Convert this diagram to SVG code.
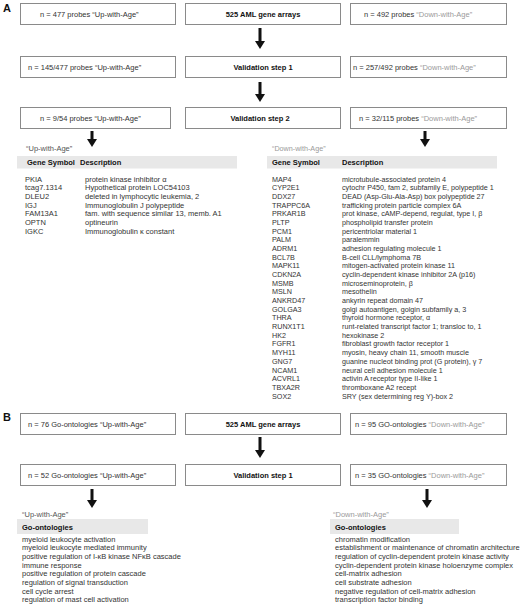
<svg xmlns="http://www.w3.org/2000/svg" width="520" height="608" viewBox="0 0 520 608">
<style>
text{font-family:"Liberation Sans",Arial,sans-serif;font-size:7.5px;fill:#333}
.box{fill:#fff;stroke:#8a8a8a;stroke-width:1}
.b{font-weight:bold;fill:#111}
.c{text-anchor:middle}
.dn{fill:#9a9a9a}
.up{fill:#555}
.bar{fill:#e8e8e8}
.lab{font-weight:bold;font-size:11px;fill:#111}
.arr{fill:#111}
.sm text{font-size:7.2px}
</style>
<rect width="520" height="608" fill="#fff"/>
<text class="lab" x="3" y="12">A</text>
<text class="lab" x="3" y="421">B</text>

<g id="a-up1"><rect class="box" x="20.5" y="3.5" width="155" height="21"/><text x="40" y="16.5">n = 477 probes “Up-with-Age”</text></g>
<g id="a-arrays"><rect class="box" x="185.5" y="3.5" width="155" height="21"/><text class="b c" x="263" y="16.5">525 AML gene arrays</text></g>
<g id="a-dn1"><rect class="box" x="350.5" y="3.5" width="156" height="21"/><text x="364" y="16.5">n = 492 probes <tspan class="dn">“Down-with-Age”</tspan></text></g>

<g id="a-up2"><rect class="box" x="20.5" y="56.5" width="155" height="21"/><text x="28" y="69.5">n = 145/477 probes “Up-with-Age”</text></g>
<g id="a-val1"><rect class="box" x="185.5" y="56.5" width="155" height="21"/><text class="b c" x="263" y="69.5">Validation step 1</text></g>
<g id="a-dn2"><rect class="box" x="350.5" y="56.5" width="156" height="21"/><text x="353" y="69.5">n = 257/492 probes <tspan class="dn">“Down-with-Age”</tspan></text></g>

<g id="a-up3"><rect class="box" x="20.5" y="107.5" width="150" height="21"/><text x="40" y="120.5">n = 9/54 probes “Up-with-Age”</text></g>
<g id="a-val2"><rect class="box" x="185.5" y="107.5" width="155" height="21"/><text class="b c" x="260" y="120.5">Validation step  2</text></g>
<g id="a-dn3"><rect class="box" x="350.5" y="107.5" width="156" height="21"/><text x="359" y="120.5">n = 32/115 probes <tspan class="dn">“Down-with-Age”</tspan></text></g>

<g id="a-uptable">
<text class="up" x="26" y="151">“Up-with-Age”</text>
<rect class="bar" x="17" y="156" width="220" height="12.5"/>
<text class="b" x="27" y="165">Gene Symbol</text><text class="b" x="80" y="165">Description</text>
<text x="25" y="181.5">PKIA</text><text x="85" y="181.5">protein kinase inhibitor α</text>
<text x="25" y="190.2">tcag7.1314</text><text x="85" y="190.2">Hypothetical protein LOC54103</text>
<text x="25" y="198.9">DLEU2</text><text x="85" y="198.9">deleted in lymphocytic leukemia, 2</text>
<text x="25" y="207.5">IGJ</text><text x="85" y="207.5">Immunoglobulin J polypeptide</text>
<text x="25" y="216.2">FAM13A1</text><text x="85" y="216.2">fam. with sequence similar 13, memb. A1</text>
<text x="25" y="224.9">OPTN</text><text x="85" y="224.9">optineurin</text>
<text x="25" y="233.6">IGKC</text><text x="85" y="233.6">Immunoglobulin κ constant</text>
</g>

<g id="a-dntable" class="sm">
<text class="dn" x="272" y="151">“Down-with-Age”</text>
<rect class="bar" x="267" y="156" width="230" height="12.5"/>
<text class="b" x="272" y="165" style="font-size:7.5px">Gene Symbol</text><text class="b" x="342" y="165" style="font-size:7.5px">Description</text>
<text x="272" y="181.5">MAP4</text><text x="342" y="181.5">microtubule-associated protein 4</text>
<text x="272" y="190.2">CYP2E1</text><text x="342" y="190.2">cytochr P450, fam 2, subfamily E, polypeptide 1</text>
<text x="272" y="198.9">DDX27</text><text x="342" y="198.9">DEAD (Asp-Glu-Ala-Asp) box polypeptide 27</text>
<text x="272" y="207.5">TRAPPC6A</text><text x="342" y="207.5">trafficking protein particle complex 6A</text>
<text x="272" y="216.2">PRKAR1B</text><text x="342" y="216.2">prot kinase, cAMP-depend, regulat, type I, β</text>
<text x="272" y="224.9">PLTP</text><text x="342" y="224.9">phospholipid transfer protein</text>
<text x="272" y="233.6">PCM1</text><text x="342" y="233.6">pericentriolar material 1</text>
<text x="272" y="242.3">PALM</text><text x="342" y="242.3">paralemmin</text>
<text x="272" y="250.9">ADRM1</text><text x="342" y="250.9">adhesion regulating molecule 1</text>
<text x="272" y="259.6">BCL7B</text><text x="342" y="259.6">B-cell CLL/lymphoma 7B</text>
<text x="272" y="268.3">MAPK11</text><text x="342" y="268.3">mitogen-activated protein kinase 11</text>
<text x="272" y="277">CDKN2A</text><text x="342" y="277">cyclin-dependent kinase inhibitor 2A (p16)</text>
<text x="272" y="285.7">MSMB</text><text x="342" y="285.7">microseminoprotein, β</text>
<text x="272" y="294.3">MSLN</text><text x="342" y="294.3">mesothelin</text>
<text x="272" y="303">ANKRD47</text><text x="342" y="303">ankyrin repeat domain 47</text>
<text x="272" y="311.7">GOLGA3</text><text x="342" y="311.7">golgi autoantigen, golgin subfamily a, 3</text>
<text x="272" y="320.4">THRA</text><text x="342" y="320.4">thyroid hormone receptor, α</text>
<text x="272" y="329.1">RUNX1T1</text><text x="342" y="329.1">runt-related transcript factor 1; transloc to, 1</text>
<text x="272" y="337.7">HK2</text><text x="342" y="337.7">hexokinase 2</text>
<text x="272" y="346.4">FGFR1</text><text x="342" y="346.4">fibroblast growth factor receptor 1</text>
<text x="272" y="355.1">MYH11</text><text x="342" y="355.1">myosin, heavy chain 11, smooth muscle</text>
<text x="272" y="363.8">GNG7</text><text x="342" y="363.8">guanine nucleot binding prot (G protein), γ 7</text>
<text x="272" y="372.5">NCAM1</text><text x="342" y="372.5">neural cell adhesion molecule 1</text>
<text x="272" y="381.1">ACVRL1</text><text x="342" y="381.1">activin A receptor type II-like 1</text>
<text x="272" y="389.8">TBXA2R</text><text x="342" y="389.8">thromboxane A2 recept</text>
<text x="272" y="398.5">SOX2</text><text x="342" y="398.5">SRY (sex determining reg Y)-box 2</text>
</g>

<g id="b-up1"><rect class="box" x="20.5" y="413.5" width="155" height="21"/><text x="28" y="426.5">n = 76 Go-ontologies “Up-with-Age”</text></g>
<g id="b-arrays"><rect class="box" x="185.5" y="413.5" width="155" height="21"/><text class="b c" x="263" y="426.5">525 AML gene arrays</text></g>
<g id="b-dn1"><rect class="box" x="350.5" y="413.5" width="156" height="21"/><text x="355" y="426.5">n = 95 GO-ontologies <tspan class="dn">“Down-with-Age”</tspan></text></g>

<g id="b-up2"><rect class="box" x="20.5" y="464.5" width="155" height="21"/><text x="28" y="477.5">n = 52 Go-ontologies “Up-with-Age”</text></g>
<g id="b-val1"><rect class="box" x="185.5" y="464.5" width="155" height="21"/><text class="b c" x="263" y="477.5">Validation step 1</text></g>
<g id="b-dn2"><rect class="box" x="350.5" y="464.5" width="156" height="21"/><text x="355" y="477.5">n = 35  GO-ontologies <tspan class="dn">“Down-with-Age”</tspan></text></g>

<g id="b-uplist">
<text class="up" x="22" y="516.5">“Up-with-Age”</text>
<rect class="bar" x="17" y="519" width="131" height="15"/>
<text class="b" x="22" y="529.5">Go-ontologies</text>
<text x="22" y="541.5">myeloid leukocyte activation</text>
<text x="22" y="550.2">myeloid leukocyte mediated immunity</text>
<text x="22" y="558.9">positive regulation of I-κB kinase NFκB cascade</text>
<text x="22" y="567.6">immune response</text>
<text x="22" y="576.3">positive regulation of protein cascade</text>
<text x="22" y="585">regulation of signal transduction</text>
<text x="22" y="593.7">cell cycle arrest</text>
<text x="22" y="602.4">regulation of mast cell activation</text>
</g>

<g id="b-dnlist">
<text class="dn" x="333" y="516.5">“Down-with-Age”</text>
<rect class="bar" x="330" y="519" width="129" height="15"/>
<text class="b" x="335" y="529.5">Go-ontologies</text>
<text x="335" y="541.5">chromatin modification</text>
<text x="335" y="550.2">establishment or maintenance of chromatin architecture</text>
<text x="335" y="558.9">regulation of cyclin-dependent protein kinase activity</text>
<text x="335" y="567.6">cyclin-dependent protein kinase holoenzyme complex</text>
<text x="335" y="576.3">cell-matrix adhesion</text>
<text x="335" y="585">cell substrate adhesion</text>
<text x="335" y="593.7">negative regulation of cell-matrix adhesion</text>
<text x="335" y="602.4">transcription factor binding</text>
</g>

<g id="connectors">
<path class="arr" d="M258.5 28h3v13h3.5l-5 8l-5-8h3.5z"/>
<path class="arr" d="M258.5 82h3v12h3.5l-5 8l-5-8h3.5z"/>
<path class="arr" d="M90.5 131h3v8h3.5l-5 8l-5-8h3.5z"/>
<path class="arr" d="M423.5 131h3v8h3.5l-5 8l-5-8h3.5z"/>
<path class="arr" d="M258.5 437h3v13h3.5l-5 8l-5-8h3.5z"/>
<path class="arr" d="M90.5 489h3v11h3.5l-5 8l-5-8h3.5z"/>
<path class="arr" d="M425.5 489h3v11h3.5l-5 8l-5-8h3.5z"/>
</g>
</svg>
